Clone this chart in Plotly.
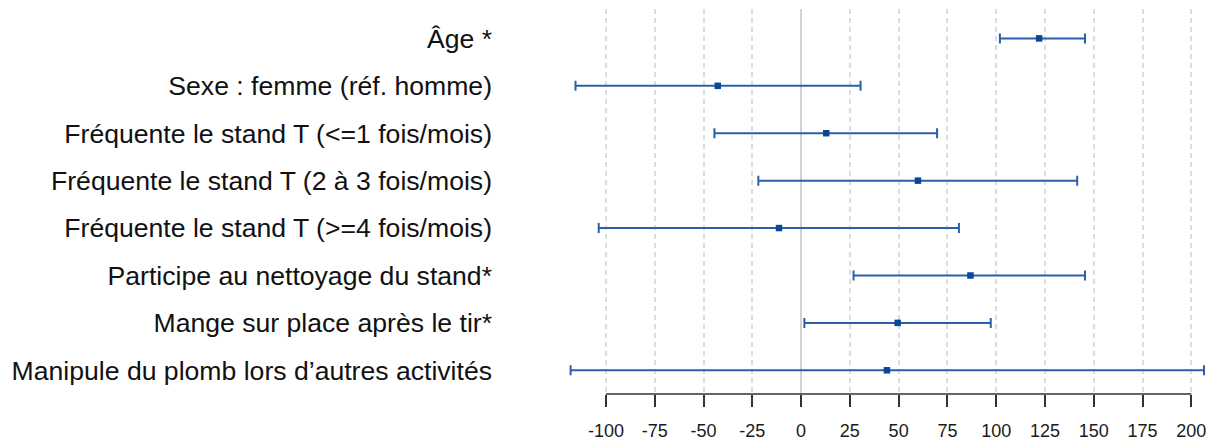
import plotly.graph_objects as go

# Variables of the model, top to bottom
labels = [
    "Âge *",
    "Sexe : femme (réf. homme)",
    "Fréquente le stand T (<=1 fois/mois)",
    "Fréquente le stand T (2 à 3 fois/mois)",
    "Fréquente le stand T (>=4 fois/mois)",
    "Participe au nettoyage du stand*",
    "Mange sur place après le tir*",
    "Manipule du plomb lors d’autres activités",
]
# Point estimates and confidence bounds
estimate = [122.0, -42.7, 12.9, 59.9, -11.3, 86.8, 49.5, 44.0]
ci_low = [101.9, -115.6, -44.4, -21.9, -103.7, 26.9, 1.7, -118.1]
ci_high = [145.5, 30.5, 69.7, 141.5, 80.9, 145.5, 97.2, 206.5]

tick_vals = [-100, -75, -50, -25, 0, 25, 50, 75, 100, 125, 150, 175, 200]

err_plus = [h - e for h, e in zip(ci_high, estimate)]
err_minus = [e - l for e, l in zip(estimate, ci_low)]

fig = go.Figure()
fig.add_trace(go.Scatter(
    x=estimate,
    y=labels,
    mode="markers",
    marker=dict(symbol="square", size=6.5, color="#0b4697"),
    error_x=dict(
        type="data",
        symmetric=False,
        array=err_plus,
        arrayminus=err_minus,
        color="#2c5fa9",
        thickness=2,
        width=5,
    ),
    showlegend=False,
    hoverinfo="skip",
))

# Axis baseline spanning the first to the last tick
fig.add_shape(
    type="line", xref="x", yref="paper",
    x0=tick_vals[0], x1=tick_vals[-1], y0=0, y1=0,
    line=dict(color="#333333", width=1.5),
)

fig.update_layout(
    width=1206,
    height=441,
    margin=dict(l=563, r=0, t=9, b=44),
    paper_bgcolor="white",
    plot_bgcolor="white",
    font=dict(family="Liberation Sans, Arial, sans-serif", color="#1a1a1a"),
    xaxis=dict(
        range=[-122, 207],
        tickmode="array",
        tickvals=tick_vals,
        ticktext=[str(v) for v in tick_vals],
        showgrid=True,
        gridcolor="#dcdcdc",
        griddash="5px,4px",
        gridwidth=1.5,
        zeroline=True,
        zerolinecolor="#d2d2d2",
        zerolinewidth=1.5,
        showline=False,
        ticks="outside",
        ticklen=12,
        tickwidth=1.5,
        tickcolor="#333333",
        tickfont=dict(size=18, color="#1a1a1a"),
        ticklabelstandoff=8,
        ticklabeloverflow="allow",
        fixedrange=True,
    ),
    yaxis=dict(
        type="category",
        categoryorder="array",
        categoryarray=labels,
        range=[7.5, -0.62],
        showgrid=False,
        zeroline=False,
        showline=False,
        ticks="",
        tickfont=dict(size=26.6, color="#111111"),
        ticklabelstandoff=70,
        fixedrange=True,
    ),
)

fig.write_html("out.html")
